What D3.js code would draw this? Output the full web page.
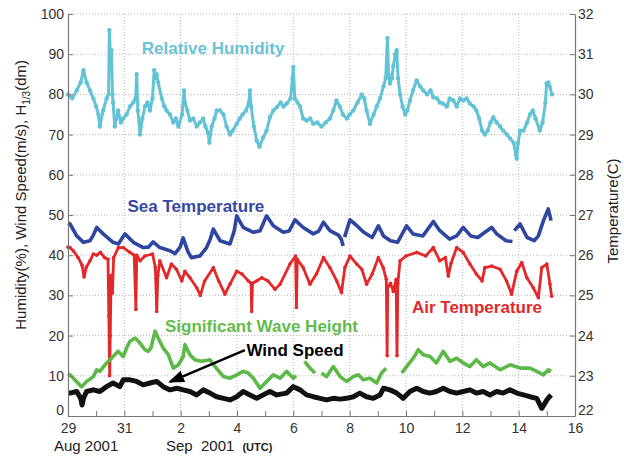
<!DOCTYPE html>
<html>
<head>
<meta charset="utf-8">
<script src="https://cdn.jsdelivr.net/npm/d3@7"></script>
<style>
  body { margin: 0; background: #fff; }
  text { font-family: "Liberation Sans", Arial, Helvetica, sans-serif; }
</style>
</head>
<body>
<div class="graph"></div>
<script>
// days since 29 Aug 2001 00:00 UTC
var xTickDays = [0, 2, 4, 6, 8, 10, 12, 14, 16, 18];
var xTickLabels = ["29", "31", "2", "4", "6", "8", "10", "12", "14", "16"];
var leftTicks = [0, 10, 20, 30, 40, 50, 60, 70, 80, 90, 100];
var rightTicks = [22, 23, 24, 25, 26, 27, 28, 29, 30, 31, 32];

// Relative humidity (%)  [day, value]
var humidity = [[0.0,80],[0.15,79],[0.31,81],[0.45,83],[0.55,86],[0.66,83],[0.78,81],[0.9,79],[1.0,77],[1.08,75],[1.13,72],[1.25,76],[1.37,79],[1.44,80],[1.47,96],[1.51,88],[1.54,91],[1.58,80],[1.6,78],[1.66,72],[1.72,74],[1.78,76],[1.88,73],[1.96,74],[2.08,75],[2.2,77],[2.32,78],[2.4,79],[2.44,85],[2.48,76],[2.56,70],[2.64,74],[2.73,77],[2.82,78],[2.91,76],[3.0,79],[3.06,86],[3.09,84],[3.15,85],[3.2,83],[3.33,79],[3.42,77],[3.5,76],[3.62,75],[3.74,73],[3.83,74],[3.92,72],[4.05,75],[4.12,81],[4.15,78],[4.24,76],[4.33,73.5],[4.45,74],[4.57,72],[4.68,73],[4.8,74],[4.88,72],[4.97,70.5],[5.02,68],[5.1,72],[5.2,74],[5.28,76],[5.4,76],[5.52,75],[5.63,72],[5.75,70],[5.85,71],[5.99,72.7],[6.1,74],[6.2,75],[6.32,76],[6.42,78],[6.46,81],[6.5,77],[6.6,72],[6.7,68.5],[6.8,67],[6.93,69.3],[7.05,71],[7.17,74.3],[7.29,76],[7.41,76.8],[7.55,78],[7.65,77],[7.76,77.7],[7.9,79],[7.97,84],[8.0,86.8],[8.05,79],[8.15,78],[8.24,77],[8.35,74],[8.47,73.5],[8.6,74],[8.71,72.7],[8.85,73],[9.0,72],[9.15,73],[9.3,74],[9.42,76],[9.53,78.5],[9.65,77],[9.76,75],[9.9,74],[10.0,75],[10.13,76],[10.28,78],[10.43,80],[10.52,79],[10.6,76],[10.72,72.7],[10.85,75],[10.96,77],[11.08,79],[11.2,82],[11.28,84],[11.34,94],[11.38,85],[11.43,82.7],[11.5,84],[11.55,87],[11.62,90],[11.67,91],[11.72,84],[11.79,80],[11.88,77],[11.97,75],[12.05,76],[12.14,78.5],[12.25,81],[12.38,83.5],[12.5,82],[12.61,81],[12.75,80],[12.87,81],[12.97,79.3],[13.1,79],[13.2,78],[13.32,77.7],[13.45,77],[13.55,79],[13.68,78.5],[13.8,77],[13.92,79],[14.03,78.5],[14.15,79],[14.27,77.7],[14.4,77],[14.5,76],[14.6,74],[14.7,71],[14.8,70],[14.9,71],[15.0,73],[15.1,74.3],[15.22,73],[15.34,72],[15.45,71],[15.58,70],[15.7,69],[15.82,68],[15.9,65],[15.93,64],[15.98,68],[16.05,71],[16.17,71],[16.3,73],[16.4,75],[16.5,76],[16.6,74],[16.75,71],[16.85,73],[16.95,78],[16.99,82.7],[17.05,83],[17.1,82],[17.18,80]];

// Sea temperature (C)  [day, value], null = gap
var seaTemp = [[0.0,26.8],[0.07,26.78],[0.31,26.48],[0.55,26.32],[0.78,26.36],[0.9,26.5],[1.02,26.69],[1.25,26.53],[1.6,26.32],[1.79,26.28],[2.02,26.53],[2.32,26.32],[2.67,26.19],[2.85,26.2],[3.02,26.33],[3.26,26.19],[3.62,26.11],[3.8,26.04],[3.98,26.2],[4.09,26.43],[4.2,26.2],[4.27,26.07],[4.38,25.94],[4.68,25.98],[4.92,26.19],[5.05,26.4],[5.16,26.65],[5.4,26.36],[5.75,26.28],[5.9,26.6],[5.99,26.98],[6.22,26.69],[6.58,26.57],[6.82,26.61],[7.05,26.98],[7.29,26.73],[7.64,26.57],[7.85,26.6],[8.06,26.88],[8.35,26.69],[8.71,26.53],[8.9,26.6],[9.07,26.82],[9.3,26.61],[9.6,26.5],[9.7,26.4],[9.77,26.23],null,[9.82,26.45],[10.01,26.88],[10.2,26.77],[10.5,26.57],[10.8,26.44],[11.02,26.73],[11.2,26.48],[11.45,26.36],[11.7,26.32],[12.02,26.73],[12.25,26.53],[12.6,26.48],[12.97,26.84],[13.2,26.61],[13.55,26.4],[13.8,26.48],[14.03,26.69],[14.3,26.48],[14.55,26.44],[14.8,26.57],[15.04,26.69],[15.22,26.53],[15.55,26.36],[15.78,26.34],null,[15.85,26.61],[16.05,26.78],[16.3,26.44],[16.55,26.36],[16.7,26.48],[16.88,26.86],[17.05,27.15],[17.15,26.86]];

// Air temperature (C)  [day, value]
var airTemp = [[0.0,26.2],[0.07,26.19],[0.2,26.1],[0.35,25.95],[0.5,25.75],[0.57,25.46],[0.65,25.7],[0.78,25.86],[0.9,26.03],[1.02,26.0],[1.15,26.07],[1.3,25.94],[1.42,25.9],[1.45,24.5],[1.48,23.0],[1.5,24.0],[1.53,25.5],[1.58,25.06],[1.62,25.94],[1.79,26.19],[1.96,26.19],[2.2,26.07],[2.35,26.0],[2.41,24.65],[2.44,26.0],[2.56,25.86],[2.73,25.98],[3.0,26.03],[3.1,25.7],[3.15,24.6],[3.19,25.5],[3.26,25.86],[3.5,25.44],[3.67,25.78],[3.85,25.65],[4.04,25.36],[4.15,25.6],[4.33,25.44],[4.57,25.19],[4.7,25.0],[4.85,25.36],[5.16,25.69],[5.35,25.36],[5.57,25.03],[5.75,25.28],[5.99,25.6],[6.18,25.53],[6.4,25.36],[6.5,25.3],[6.52,24.6],[6.55,25.3],[6.7,25.36],[6.88,25.44],[7.1,25.36],[7.35,25.15],[7.53,25.28],[7.88,25.78],[8.08,25.98],[8.11,24.7],[8.14,25.9],[8.35,25.69],[8.59,25.28],[8.82,25.53],[9.07,25.94],[9.3,25.69],[9.54,25.36],[9.71,25.07],[9.83,25.69],[10.01,25.98],[10.25,25.78],[10.43,25.65],[10.6,25.28],[10.8,25.53],[11.02,25.94],[11.19,25.69],[11.3,25.4],[11.33,23.5],[11.35,25.2],[11.45,25.3],[11.55,25.1],[11.65,25.4],[11.68,23.5],[11.71,25.3],[11.79,25.86],[12.0,25.98],[12.38,26.07],[12.7,25.98],[12.97,26.19],[13.2,25.86],[13.4,25.94],[13.5,25.48],[13.6,25.8],[13.8,26.19],[14.03,26.07],[14.27,25.78],[14.5,25.53],[14.7,25.36],[14.8,25.69],[15.04,25.73],[15.34,25.65],[15.57,25.36],[15.75,25.03],[15.93,25.6],[16.11,25.82],[16.29,25.44],[16.52,25.19],[16.7,24.94],[16.82,25.69],[17.0,25.78],[17.11,25.28],[17.17,24.98]];

// Significant wave height (dm)  [day, value], null = gap
var waveHeight = [[0.0,10.5],[0.07,10.25],[0.3,8.6],[0.48,7.3],[0.66,8.6],[0.9,9.8],[1.02,11.5],[1.13,11.1],[1.37,13.2],[1.55,14.4],[1.78,16.1],[1.96,14.8],[2.08,16.9],[2.2,18.6],[2.38,19.4],[2.55,18.2],[2.73,16.5],[2.85,16.1],[2.95,17],[3.09,21.1],[3.2,19.4],[3.38,16.9],[3.56,15.25],[3.74,11.9],[3.92,12.75],[4.09,14.8],[4.15,17.75],[4.33,15.25],[4.5,14],[4.74,13.6],[5.04,14],[5.22,12.3],[5.52,9.8],[5.75,9.4],[5.99,10.25],[6.22,11.1],[6.4,10.7],[6.58,9.4],[6.82,6.9],[7.05,8.6],[7.29,10.25],[7.53,9.4],[7.76,11.1],[8.0,9.4],[8.1,10.0],null,[8.4,13.6],[8.59,11.9],[8.77,10.7],null,[9.0,10.7],[9.18,9.8],[9.42,12.3],[9.66,9.8],[9.89,8.6],[10.13,9.8],[10.31,10.25],[10.48,9],[10.72,9.4],[10.96,8.2],[11.13,10.7],[11.29,11.9],null,[11.85,10.7],[12.02,12.3],[12.26,14.4],[12.44,16.5],[12.61,15.25],[12.85,14.8],[13.08,13.2],[13.32,16.1],[13.56,13.6],[13.8,14.4],[14.03,13.2],[14.27,12.3],[14.5,14],[14.74,12.3],[14.98,13.2],[15.34,11.5],[15.7,12.75],[16.05,11.9],[16.4,11.9],[16.64,11.1],[16.88,10.25],[17.05,11.5],[17.15,11.1]];

// Wind speed (m/s)  [day, value]
var windSpeed = [[0.0,5.7],[0.07,5.7],[0.31,6.1],[0.45,4.4],[0.5,2.75],[0.55,4.4],[0.66,6.1],[0.9,6.5],[1.13,6.1],[1.37,7.3],[1.6,8.2],[1.84,7.3],[1.96,9],[2.2,9],[2.44,8.6],[2.67,7.75],[2.91,8.2],[3.15,8.6],[3.38,7.3],[3.62,6.5],[3.86,6.9],[4.09,6.5],[4.33,6.1],[4.57,5.25],[4.8,6.5],[5.04,5.7],[5.28,4.8],[5.52,4.4],[5.75,4],[5.99,4.8],[6.22,6.1],[6.46,5.25],[6.7,4.4],[6.93,5.25],[7.17,6.1],[7.41,5.25],[7.76,5.7],[8.0,7.3],[8.24,6.5],[8.47,5.25],[8.71,4.8],[8.95,4.4],[9.18,4],[9.42,4.4],[9.66,4.2],[9.89,4.4],[10.13,4.8],[10.36,5.7],[10.6,4.8],[10.84,4.4],[11.08,5.25],[11.2,6.9],[11.43,6.5],[11.67,5.7],[11.9,4.4],[12.14,6.1],[12.38,6.9],[12.61,6.1],[12.85,5.7],[13.08,6.1],[13.32,6.9],[13.56,6.1],[13.8,5.7],[14.03,6.1],[14.27,6.5],[14.5,5.7],[14.74,6.1],[14.98,5.25],[15.22,6.1],[15.45,5.7],[15.69,6.5],[15.93,5.7],[16.17,5.25],[16.4,4.8],[16.64,4.4],[16.82,1.9],[17.0,4],[17.15,5.25]];

var margin = {top: 14, right: 49, bottom: 40, left: 68},
    width = 624 - margin.left - margin.right,
    height = 456 - margin.top - margin.bottom;

var x = d3.scaleLinear().domain([0, 18]).range([0, width]);
var yL = d3.scaleLinear().domain([0, 100]).range([height, 0]);
var yR = d3.scaleLinear().domain([22, 32]).range([height, 0]);

var svg = d3.select("div.graph").append("svg")
    .attr("width", 624)
    .attr("height", 456);

var defs = svg.append("defs");
defs.append("marker")
    .attr("id", "arrow")
    .attr("markerUnits", "userSpaceOnUse")
    .attr("markerWidth", 16).attr("markerHeight", 12)
    .attr("refX", 14).attr("refY", 6)
    .attr("orient", "auto")
  .append("path")
    .attr("d", "M0,0 L16,6 L0,12 Z")
    .attr("fill", "#000");

var g = svg.append("g")
    .attr("transform", "translate(" + margin.left + "," + margin.top + ")");

// grid
g.selectAll(".hgrid")
  .data(leftTicks.filter(function(d) { return d > 0; }))
  .enter().append("line")
    .attr("x1", 0).attr("x2", width)
    .attr("y1", function(d) { return yL(d); })
    .attr("y2", function(d) { return yL(d); })
    .attr("stroke", "#b5b5b5")
    .attr("stroke-dasharray", "1,2");

g.selectAll(".vgrid")
  .data(xTickDays.filter(function(d) { return d > 0 && d < 18; }))
  .enter().append("line")
    .attr("y1", 0).attr("y2", height)
    .attr("x1", function(d) { return x(d); })
    .attr("x2", function(d) { return x(d); })
    .attr("stroke", "#b5b5b5")
    .attr("stroke-dasharray", "1,2");

// series
var lineL = d3.line()
    .defined(function(d) { return d !== null; })
    .x(function(d) { return x(d[0]); })
    .y(function(d) { return yL(d[1]); });
var lineR = d3.line()
    .defined(function(d) { return d !== null; })
    .x(function(d) { return x(d[0]); })
    .y(function(d) { return yR(d[1]); });

function drawDots(data, yScale, color, r) {
  g.append("g").selectAll("circle")
    .data(data.filter(function(d) { return d !== null; }))
    .enter().append("circle")
      .attr("r", r)
      .attr("cx", function(d) { return x(d[0]); })
      .attr("cy", function(d) { return yScale(d[1]); })
      .attr("fill", color);
}

g.append("path").datum(humidity)
    .attr("d", lineL).attr("fill", "none")
    .attr("stroke", "#62c2d6").attr("stroke-width", 3)
    .attr("stroke-linejoin", "round");
drawDots(humidity, yL, "#62c2d6", 2.2);

g.append("path").datum(seaTemp)
    .attr("d", lineR).attr("fill", "none")
    .attr("stroke", "#2f46a0").attr("stroke-width", 3.6)
    .attr("stroke-linejoin", "round");

g.append("path").datum(airTemp)
    .attr("d", lineR).attr("fill", "none")
    .attr("stroke", "#e3282a").attr("stroke-width", 2.8)
    .attr("stroke-linejoin", "round");
drawDots(airTemp, yR, "#e3282a", 1.8);

g.append("path").datum(waveHeight)
    .attr("d", lineL).attr("fill", "none")
    .attr("stroke", "#5db947").attr("stroke-width", 3.6)
    .attr("stroke-linejoin", "round");

g.append("path").datum(windSpeed)
    .attr("d", lineL).attr("fill", "none")
    .attr("stroke", "#111").attr("stroke-width", 5)
    .attr("stroke-linejoin", "round");

// axes
var xAxis = g.append("g")
    .attr("transform", "translate(0," + height + ")")
    .call(d3.axisBottom(x)
      .tickValues(d3.range(0, 19, 1))
      .tickSize(-5).tickSizeOuter(0).tickPadding(7)
      .tickFormat(function(d) {
        var i = xTickDays.indexOf(d);
        return i >= 0 ? xTickLabels[i] : "";
      }));

var leftAxis = g.append("g")
    .call(d3.axisLeft(yL)
      .tickValues(leftTicks)
      .tickSize(-5).tickSizeOuter(0).tickPadding(4));

var rightAxis = g.append("g")
    .attr("transform", "translate(" + width + ",0)")
    .call(d3.axisRight(yR)
      .tickValues(rightTicks)
      .tickSize(-5).tickSizeOuter(0).tickPadding(3));

[xAxis, leftAxis, rightAxis].forEach(function(a) {
  a.select(".domain").attr("stroke", "#777").attr("stroke-width", 1.2);
  a.selectAll(".tick line").attr("stroke", "#777");
  a.selectAll(".tick text")
    .attr("fill", "#333")
    .style("font-size", "14px")
    .style("font-family", "'Liberation Sans', Arial, sans-serif");
});
// lowest labels sit a little higher, as in the original
leftAxis.selectAll(".tick text").filter(function(d) { return d === 0; }).attr("dy", "-0.1em");
rightAxis.selectAll(".tick text").filter(function(d) { return d === 22; }).attr("dy", "-0.1em");

// series labels
var labels = [
  {text: "Relative Humidity", d: 5.15, v: 90.0, color: "#68c4d6"},
  {text: "Sea Temperature", d: 4.54, v: 50.8, color: "#3448a4"},
  {text: "Air Temperature", d: 14.52, v: 25.5, color: "#e3282a"},
  {text: "Significant Wave Height", d: 6.87, v: 21.0, color: "#63bb4c"},
  {text: "Wind Speed", d: 8.06, v: 14.9, color: "#000"}
];
g.selectAll(".slabel")
  .data(labels)
  .enter().append("text")
    .attr("x", function(d) { return x(d.d); })
    .attr("y", function(d) { return yL(d.v); })
    .attr("text-anchor", "middle")
    .attr("fill", function(d) { return d.color; })
    .style("font-size", "17px")
    .style("font-weight", "bold")
    .text(function(d) { return d.text; });

// arrow to the wind speed line
g.append("line")
    .attr("x1", x(6.28)).attr("y1", yL(16.4))
    .attr("x2", x(3.62)).attr("y2", yL(8.5))
    .attr("stroke", "#000").attr("stroke-width", 2.5)
    .attr("marker-end", "url(#arrow)");

// axis titles
var yTitle = svg.append("text")
    .attr("transform", "translate(26," + (margin.top + height * 0.45) + ") rotate(-90)")
    .attr("text-anchor", "middle")
    .attr("fill", "#222")
    .style("font-size", "15px");
yTitle.append("tspan").text("Humidity(%), Wind Speed(m/s), H");
yTitle.append("tspan").attr("dy", 4).style("font-size", "10px").text("1/3");
yTitle.append("tspan").attr("dy", -4).text("(dm)");

svg.append("text")
    .attr("transform", "translate(618," + (margin.top + height * 0.49) + ") rotate(-90)")
    .attr("text-anchor", "middle")
    .attr("fill", "#222")
    .style("font-size", "15px")
    .text("Temperature(C)");

svg.append("text")
    .attr("x", 54).attr("y", 451)
    .attr("fill", "#222")
    .style("font-size", "15px")
    .text("Aug 2001");

var sep = svg.append("text")
    .attr("x", 166).attr("y", 451)
    .attr("fill", "#222")
    .style("font-size", "15px");
sep.append("tspan").text("Sep\u00a0 2001");
sep.append("tspan").attr("dx", 8).style("font-size", "11px").style("font-weight", "bold").text("(UTC)");
</script>
</body>
</html>
